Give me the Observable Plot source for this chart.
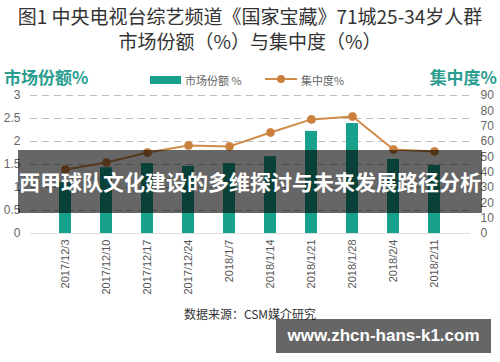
<!DOCTYPE html>
<html>
<head>
<meta charset="utf-8">
<script src="https://cdn.jsdelivr.net/npm/d3@7"></script>
<script src="https://cdn.jsdelivr.net/npm/@observablehq/plot@0.6"></script>
<style>
  html, body { margin: 0; padding: 0; background: #fff; }
  #wrap { position: relative; width: 500px; height: 362px; overflow: hidden; font-family: "Noto Sans CJK SC", "Liberation Sans", sans-serif; }
  #chart { position: absolute; left: 0; top: 0; }
  .abs { position: absolute; white-space: nowrap; }
  .title { left: 0; width: 500px; text-align: center; color: #333; font-size: 19px; line-height: 22px; }
  .axlab { color: #2a9d8f; font-weight: bold; font-size: 17px; top: 64px; }
  .leg { font-size: 11px; color: #666; top: 72px; }
  .banner { background: rgba(0,0,0,0.6); color: #fff; font-weight: bold; }
</style>
</head>
<body>
<div id="wrap">
  <div class="abs title" style="top:5px">图1 中央电视台综艺频道《国家宝藏》71城25-34岁人群</div>
  <div class="abs title" style="top:30px">市场份额（%）与集中度（%）</div>
  <div class="abs axlab" style="left:4px">市场份额%</div>
  <div class="abs axlab" style="right:3px">集中度%</div>
  <div class="abs" style="left:150px;top:76px;width:31px;height:8px;background:#17a08c"></div>
  <div class="abs leg" style="left:185px">市场份额 %</div>
  <svg class="abs" style="left:264px;top:74px" width="34" height="10"><line x1="1" y1="5" x2="33" y2="5" stroke="#d08a4a" stroke-width="2"/><circle cx="17" cy="5" r="4" fill="#c8803c"/></svg>
  <div class="abs leg" style="left:301px">集中度%</div>
  <div id="chart"></div>
  <div class="abs" style="left:0;width:500px;top:305px;text-align:center;font-size:12px;color:#333">数据来源：CSM媒介研究</div>
  <div class="abs banner" style="left:18px;top:150px;width:464px;height:63px;font-size:21px;line-height:63px;text-align:center">西甲球队文化建设的多维探讨与未来发展路径分析</div>
  <div class="abs banner" style="left:276px;top:319px;width:215px;height:34px;font-size:17px;line-height:34px;text-align:center;font-family:'Liberation Sans',sans-serif">www.zhcn-hans-k1.com</div>
</div>
<script>
const dates = ["2017/12/3","2017/12/10","2017/12/17","2017/12/24","2018/1/7","2018/1/14","2018/1/21","2018/1/28","2018/2/4","2018/2/11"];
const marketShare = [1.1, 1.43, 1.52, 1.46, 1.52, 1.67, 2.22, 2.39, 1.61, 1.48];
const concentration = [41.7, 46.3, 52.8, 57.4, 56.8, 65.9, 74.4, 76.3, 54.8, 53.5];
const leftTicks = [0, 0.5, 1, 1.5, 2, 2.5, 3];
const rightTicks = [0, 10, 20, 30, 40, 50, 60, 70, 80, 90];

const ratio = 3 / 90;
const data = dates.map((d, i) => ({date: d, share: marketShare[i], conc: concentration[i]}));

const chart = Plot.plot({
  width: 500,
  height: 362,
  marginLeft: 30,
  marginRight: 30,
  marginTop: 95,
  marginBottom: 129,
  style: {fontFamily: "'Liberation Sans', Arial, sans-serif", fontSize: "11px", color: "#555", background: "transparent"},
  x: {type: "band", domain: dates, padding: 0.7, align: 0.5},
  y: {domain: [0, 3]},
  marks: [
    Plot.gridY(leftTicks.filter(d => d > 0), {stroke: "#bbb", strokeOpacity: 1, strokeDasharray: "7,5", strokeWidth: 1}),
    Plot.ruleY([0], {stroke: "#ddd", strokeWidth: 1}),
    Plot.barY(data, {x: "date", y: "share", fill: "#17a08c"}),
    Plot.line(data, {x: "date", y: d => d.conc * ratio, stroke: "#d08a4a", strokeWidth: 2}),
    Plot.dot(data, {x: "date", y: d => d.conc * ratio, r: 4, fill: "#c8803c", stroke: "#d08a4a", strokeWidth: 1}),
    Plot.axisY({ticks: leftTicks, tickFormat: d => String(d), tickSize: 0, tickPadding: 10, label: null, fontSize: 12, color: "#666"}),
    Plot.axisY({anchor: "right", ticks: rightTicks.map(d => d * ratio), tickFormat: d => String(Math.round(d / ratio)), tickSize: 0, tickPadding: 10, label: null, fontSize: 12, color: "#666"}),
    Plot.axisX({tickRotate: -90, tickSize: 0, tickPadding: 6, label: null, fontSize: 11, color: "#555"})
  ]
});
document.getElementById("chart").appendChild(chart);
</script>
</body>
</html>
